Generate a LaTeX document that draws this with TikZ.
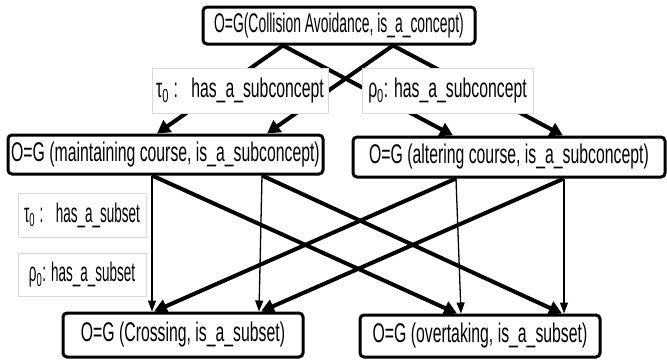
\documentclass[tikz,border=0pt]{standalone}
\usepackage{fontspec}
\setmainfont[FakeStretch=0.585]{Liberation Sans}
\newfontfamily\toplabel[FakeStretch=0.515]{Liberation Sans}
\newfontfamily\setlabel[FakeStretch=0.5]{Liberation Sans}
\usetikzlibrary{arrows.meta}
\tikzset{
  concept/.style={draw, line width=3pt, rounded corners=4pt, fill=white, inner sep=0pt, font=\fontsize{27}{30}\selectfont},
  relation/.style={draw=black!15, line width=1pt, fill=white, inner sep=0pt, font=\fontsize{27}{30}\selectfont},
  strong/.style={line width=4pt, -{Triangle[length=13pt,width=14pt]}},
  weak/.style={line width=1.3pt, -{Triangle[length=11pt,width=8pt]}}
}
\begin{document}
\begin{tikzpicture}[x=1pt,y=-1pt]
    \useasboundingbox (0,0) rectangle (667,360);
    \node[concept, minimum width=272pt, minimum height=37pt, font=\fontsize{27}{30}\toplabel] (top) at (339,25.5) {O=G(Collision Avoidance, is\_a\_concept)};
    \node[concept, minimum width=315pt, minimum height=39pt] (maint) at (165.5,154.5) {O=G (maintaining course, is\_a\_subconcept)};
    \node[concept, minimum width=312pt, minimum height=40pt] (alter) at (509,157) {O=G (altering course, is\_a\_subconcept)};
    \node[concept, minimum width=240pt, minimum height=44pt] (cross) at (183,335) {O=G (Crossing, is\_a\_subset)};
    \node[concept, minimum width=240pt, minimum height=42pt] (overt) at (480,336) {O=G (overtaking, is\_a\_subset)};
    \draw[strong] ([xshift=-56pt]top.south) -- ([xshift=-8.5pt]maint.north);
    \draw[strong] ([xshift=54pt]top.south) -- ([xshift=101.5pt]maint.north);
    \draw[strong] ([xshift=-56pt]top.south) -- ([xshift=-56pt]alter.north);
    \draw[strong] ([xshift=54pt]top.south) -- ([xshift=54pt]alter.north);
    \draw[weak] ([xshift=-13.5pt]maint.south) -- ([xshift=-31pt]cross.north);
    \draw[weak] ([xshift=96.5pt]maint.south) -- ([xshift=76pt]cross.north);
    \draw[strong] ([xshift=-13.5pt]maint.south) -- ([xshift=-23pt]overt.north);
    \draw[strong] ([xshift=96.5pt]maint.south) -- ([xshift=82pt]overt.north);
    \draw[strong] ([xshift=-53pt]alter.south) -- ([xshift=-29pt]cross.north);
    \draw[strong] ([xshift=55pt]alter.south) -- ([xshift=78pt]cross.north);
    \draw[weak] ([xshift=-53pt]alter.south) -- ([xshift=-19pt]overt.north);
    \draw[weak] ([xshift=55pt]alter.south) -- ([xshift=84pt]overt.north);
    \node[relation, minimum width=176pt, minimum height=45pt] (tsub) at (240,90.5) {τ\textsubscript{0}\,:\; has\_a\_subconcept};
    \node[relation, minimum width=171pt, minimum height=45pt] (rsub) at (447.5,90.5) {ρ\textsubscript{0}: has\_a\_subconcept};
    \node[relation, minimum width=128pt, minimum height=44pt, font=\fontsize{27}{30}\setlabel] (tset) at (82,215) {τ\textsubscript{0}\,:\; has\_a\_subset};
    \node[relation, minimum width=128pt, minimum height=43pt, font=\fontsize{27}{30}\setlabel] (rset) at (82,274.5) {ρ\textsubscript{0}: has\_a\_subset};
\end{tikzpicture}
\end{document}
